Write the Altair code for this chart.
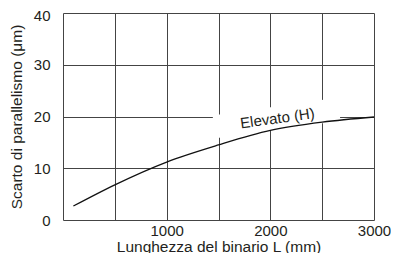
import altair as alt
import pandas as pd

# curve "Elevato (H)"
length_mm = [100, 500, 1000, 1500, 2000, 2500, 3000]
deviation_um = [2.7, 6.8, 11.2, 14.5, 17.3, 18.9, 19.9]

x_ticks = [0, 500, 1000, 1500, 2000, 2500, 3000]
y_ticks = [0, 10, 20, 30, 40]

label_text = ["Elevato (H)"]
label_x = [2075]
label_y = [18.7]

box_x = [2060]
box_y = [19.7]

FONT = "Liberation Sans"
GRID = "#444444"
TXT = "#231f20"

curve_df = pd.DataFrame({"L": length_mm, "d": deviation_um})
label_df = pd.DataFrame({"L": label_x, "d": label_y, "t": label_text})
box_df = pd.DataFrame({"L": box_x, "d": box_y})

xscale = alt.Scale(domain=[0, 3000], nice=False, zero=False)
yscale = alt.Scale(domain=[0, 40], nice=False)

xaxis = alt.Axis(
    values=x_ticks, grid=True, gridColor=GRID, gridWidth=1, gridOpacity=1,
    ticks=False, domain=False, labelFont=FONT, labelFontSize=15, labelColor=TXT,
    labelExpr="datum.value % 1000 == 0 && datum.value > 0 ? datum.value : ''",
    labelPadding=3, labelFlush=False,
    title="Lunghezza del binario L (mm)", titleFont=FONT, titleFontSize=15.5,
    titleFontWeight="normal", titleColor=TXT, titlePadding=1,
)
yaxis = alt.Axis(
    values=y_ticks, grid=True, gridColor=GRID, gridWidth=1, gridOpacity=1,
    ticks=False, domain=False, labelFont=FONT, labelFontSize=15, labelColor=TXT,
    labelPadding=13, format="d",
    labelOffset={"condition": {"test": "datum.value == 40", "value": 2}, "value": 0},
    title="Scarto di parallelismo (μm)", titleFont=FONT, titleFontSize=15.5,
    titleFontWeight="normal", titleColor=TXT, titlePadding=9,
)

base_x = alt.X("L:Q", scale=xscale, axis=xaxis)
base_y = alt.Y("d:Q", scale=yscale, axis=yaxis)

box = alt.Chart(box_df).mark_point(
    shape="M -1 -0.183 L 1 -0.183 L 1 0.183 L -1 0.183 Z",
    filled=True, fill="white", opacity=1, strokeWidth=0, size=15876, angle=352,
).encode(x=alt.X("L:Q", scale=xscale), y=alt.Y("d:Q", scale=yscale))

line = alt.Chart(curve_df).mark_line(
    color="#111111", strokeWidth=1.3, interpolate="monotone"
).encode(x=base_x, y=base_y)

text = alt.Chart(label_df).mark_text(
    font=FONT, fontSize=15, color=TXT, angle=352, align="center", baseline="alphabetic"
).encode(x=alt.X("L:Q", scale=xscale), y=alt.Y("d:Q", scale=yscale), text="t:N")

chart = alt.layer(box, line, text).properties(
    width=311, height=207,
    autosize=alt.AutoSizeParams(type="none"),
    padding={"left": 55, "top": 5, "right": 17, "bottom": 33},
).configure_view(stroke=None)

chart.save("out.html", embed_options={"renderer": "svg", "actions": False})
